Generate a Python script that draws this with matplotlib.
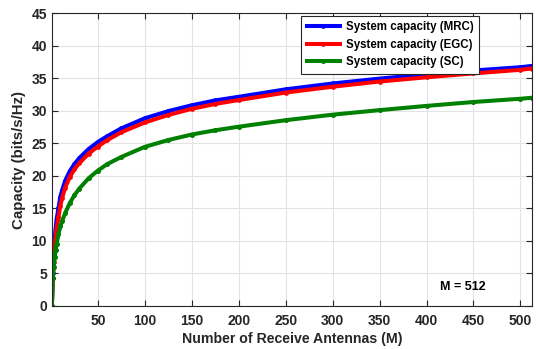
import numpy as np
import matplotlib
matplotlib.use("Agg")
import matplotlib.pyplot as plt

M = [1, 2, 3, 4, 5, 6, 8, 10, 12, 15, 20, 25, 30, 40, 50, 60, 75, 100,
     125, 150, 175, 200, 250, 300, 350, 400, 450, 500, 512]

cap_mrc = [0, 5.1, 7.8, 10.3, 12.0, 13.3, 15.0, 16.8, 17.8, 19.2, 20.7, 21.8,
           22.7, 24.1, 25.2, 26.1, 27.3, 28.85, 29.95, 30.85, 31.6, 32.15,
           33.3, 34.2, 34.95, 35.6, 36.2, 36.7, 36.9]
cap_egc = [0, 4.3, 6.8, 9.0, 10.6, 11.9, 13.6, 15.4, 16.6, 18.1, 19.8, 21.0,
           21.9, 23.4, 24.5, 25.5, 26.7, 28.2, 29.35, 30.3, 31.05, 31.65,
           32.8, 33.7, 34.5, 35.15, 35.75, 36.3, 36.5]
cap_sc = [0, 4.2, 6.0, 7.5, 8.6, 9.5, 11.0, 12.2, 13.1, 14.2, 15.8, 17.0,
          18.0, 19.6, 20.8, 21.8, 22.9, 24.45, 25.5, 26.35, 27.0, 27.55,
          28.55, 29.4, 30.1, 30.75, 31.35, 31.85, 32.0]

plt.rcParams['font.family'] = ['Liberation Sans', 'DejaVu Sans']
plt.rcParams['font.weight'] = 'bold'

fig = plt.figure(figsize=(5.36, 3.49), dpi=100)
ax = fig.add_axes([0.0968, 0.1238, 0.8952, 0.8382])

ax.plot(M, cap_mrc, color=(0, 0, 1), lw=2.9, marker='o', ms=2.4,
        label='System capacity (MRC)')
ax.plot(M, cap_egc, color=(1, 0, 0), lw=2.9, marker='o', ms=2.4,
        label='System capacity (EGC)')
ax.plot(M, cap_sc, color=(0, 0.5, 0), lw=2.9, marker='o', ms=2.6,
        label='System capacity (SC)')

ax.set_xlim(1, 512)
ax.set_ylim(0, 45)
ax.set_xticks(np.arange(50, 501, 50))
ax.set_yticks(np.arange(0, 46, 5))
ax.grid(True, color='#e3e3e3', lw=0.8)
ax.set_axisbelow(True)
ax.tick_params(direction='in', top=True, right=True, length=4, width=0.8,
               colors='#262626', labelsize=10)
ax.tick_params(axis='x', pad=6)
for s in ax.spines.values():
    s.set_color('#262626')
    s.set_linewidth(0.8)

ax.set_xlabel('Number of Receive Antennas (M)', fontsize=10.2, fontweight='bold',
              color='#262626', labelpad=3)
ax.set_ylabel('Capacity (bits/s/Hz)', fontsize=10.8, fontweight='bold',
              color='#262626', labelpad=4)

leg = ax.legend(loc='upper left', bbox_to_anchor=(0.519, 0.992), fontsize=8.3,
                handlelength=2.9, borderaxespad=0, fancybox=False,
                framealpha=1, edgecolor='#262626', borderpad=0.5,
                labelspacing=0.45, handletextpad=0.5)
leg.get_frame().set_linewidth(0.8)

ax.text(0.809, 0.064, 'M = 512', transform=ax.transAxes, fontsize=9,
        fontweight='bold', color='black', va='center')

fig.savefig('out.png', dpi=100)
